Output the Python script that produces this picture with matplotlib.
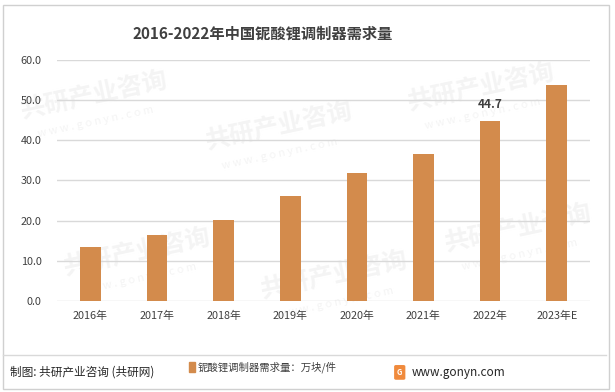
import matplotlib.pyplot as plt
from matplotlib.patches import Rectangle, FancyBboxPatch
from matplotlib.lines import Line2D

plt.rcParams['font.family'] = ['Noto Sans CJK SC', 'DejaVu Sans']

years = ['2016年', '2017年', '2018年', '2019年', '2020年', '2021年', '2022年', '2023年E']
demand = [13.4, 16.4, 20.1, 26.1, 31.9, 36.6, 44.7, 53.8]
yticks = [0, 10, 20, 30, 40, 50, 60]

bar_color = '#D38B4C'
text_color = '#404040'

fig = plt.figure(figsize=(6.15, 3.92), dpi=100)

# faint watermarks behind the chart
wm = [(0.03, 0.70), (0.33, 0.62), (0.66, 0.72), (0.10, 0.30), (0.42, 0.24), (0.72, 0.36)]
for x, y in wm:
    fig.text(x, y, '共研产业咨询', fontsize=18, fontweight='bold', color='#F4F4F4',
             rotation=12, zorder=0)
    fig.text(x + 0.03, y - 0.05, 'w w w . g o n y n . c o m', fontsize=8, color='#F4F4F4',
             rotation=12, zorder=0)

ax = fig.add_axes([0.0927, 0.232, 0.8667, 0.616])
ax.set_zorder(2)
ax.patch.set_alpha(0)
ax.bar(range(len(years)), demand, width=0.31, color=bar_color, zorder=3)
ax.set_xlim(-0.5, len(years) - 0.5)
ax.set_ylim(0, 60)
ax.set_yticks(yticks)
ax.set_yticklabels([f'{v:.1f}' for v in yticks])
ax.set_xticks(range(len(years)))
ax.set_xticklabels(years)
ax.tick_params(axis='both', length=0, labelsize=7.8, colors=text_color)
ax.tick_params(axis='y', pad=11)
ax.tick_params(axis='x', pad=7)
ax.grid(axis='y', color='#D9D9D9', linewidth=1, zorder=0)
for s in ax.spines.values():
    s.set_visible(False)

ax.text(6, demand[6] + 2.5, f'{demand[6]}', ha='center', va='bottom', fontsize=8.5,
        fontweight='bold', color=text_color)

fig.text(0.427, 0.915, '2016-2022年中国铌酸锂调制器需求量', ha='center', va='center',
         fontsize=11, fontweight='bold', color=text_color)

# footer
fig.add_artist(Line2D([0.005, 0.985], [0.094, 0.094], color='#D9D9D9', lw=1,
                      transform=fig.transFigure))
fig.text(0.016, 0.05, '制图: 共研产业咨询 (共研网)', ha='left', va='center',
         fontsize=8.4, color='#262626')
fig.add_artist(Rectangle((0.307, 0.052), 0.0095, 0.024, color=bar_color,
                         transform=fig.transFigure))
fig.text(0.321, 0.064, '铌酸锂调制器需求量：万块/件', ha='left', va='center',
         fontsize=7.5, color=text_color)
fig.add_artist(FancyBboxPatch((0.644, 0.035), 0.012, 0.03, boxstyle='round,pad=0.002',
                              color='#F08A3C', transform=fig.transFigure))
fig.text(0.650, 0.05, 'G', ha='center', va='center', fontsize=5.5, fontweight='bold',
         color='white')
fig.text(0.670, 0.05, 'www.gonyn.com', ha='left', va='center', fontsize=8.5,
         color='#262626')

# outer frame
fig.add_artist(Rectangle((0.005, 0.008), 0.985, 0.98, fill=False, edgecolor='#D0D0D0',
                         lw=1, transform=fig.transFigure))

fig.savefig('out.png', dpi=100)
